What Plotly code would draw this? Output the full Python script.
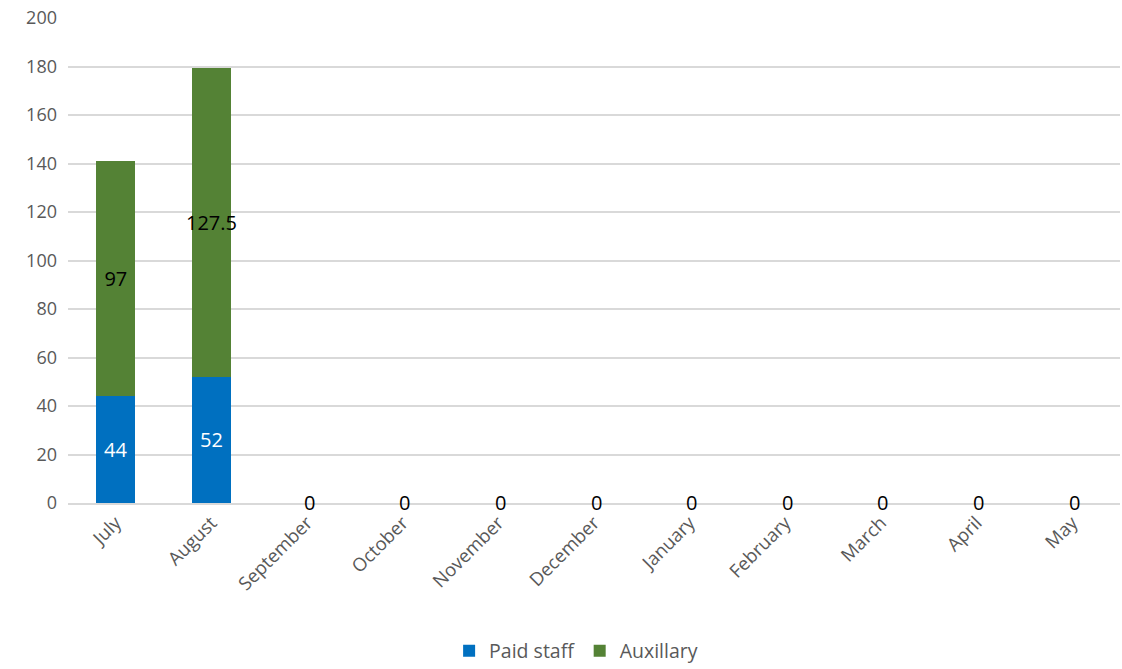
import plotly.graph_objects as go

months = ["July", "August", "September", "October", "November", "December",
          "January", "February", "March", "April", "May"]
paid_staff = [44, 52, 0, 0, 0, 0, 0, 0, 0, 0, 0]
auxillary = [97, 127.5, 0, 0, 0, 0, 0, 0, 0, 0, 0]

FONT = "Open Sans, Liberation Sans, sans-serif"

fig = go.Figure()
fig.add_trace(go.Bar(
    x=months, y=paid_staff, name="Paid staff",
    marker=dict(color="#0070C0", line=dict(width=0)),
    text=[str(v) if v else "" for v in paid_staff],
    textposition="inside", insidetextanchor="middle", textangle=0,
    textfont=dict(color="white", size=20, family=FONT),
))
fig.add_trace(go.Bar(
    x=months, y=auxillary, name="Auxillary",
    marker=dict(color="#548235", line=dict(width=0)),
    text=[str(v) if v else "" for v in auxillary],
    textposition="inside", insidetextanchor="middle", textangle=0,
    textfont=dict(color="black", size=20, family=FONT),
    constraintext="none",
))
# zero labels for empty months (drawn above the axis line)
for m, p, a in zip(months, paid_staff, auxillary):
    if p + a == 0:
        fig.add_annotation(x=m, y=p + a, text=str(p + a), showarrow=False,
                           yanchor="middle", xanchor="center", xshift=2, yshift=1,
                           font=dict(color="black", size=20, family=FONT))

fig.update_layout(
    barmode="stack", bargap=0.59,
    width=1122, height=669,
    margin=dict(l=68, r=2, t=18, b=166, autoexpand=False),
    plot_bgcolor="white", paper_bgcolor="white",
    font=dict(family=FONT, size=17, color="#595959"),
    uniformtext=dict(mode=False),
    legend=dict(orientation="h", x=0.483, xanchor="center", y=-0.265, yanchor="top",
                font=dict(size=19.5, color="#595959"), traceorder="normal",
                itemwidth=30),
    xaxis=dict(tickangle=-45, showgrid=False, showline=True, linecolor="#D9D9D9",
               linewidth=1.5, tickfont=dict(size=18.5, color="#595959"),
               automargin=False),
    yaxis=dict(range=[0, 200], dtick=20, showgrid=True, gridcolor="#D9D9D9",
               gridwidth=1.5, zeroline=False, showline=False,
               tickfont=dict(size=18, color="#595959"), ticklabelstandoff=10,
               automargin=False),
)

fig.write_html("out.html")
